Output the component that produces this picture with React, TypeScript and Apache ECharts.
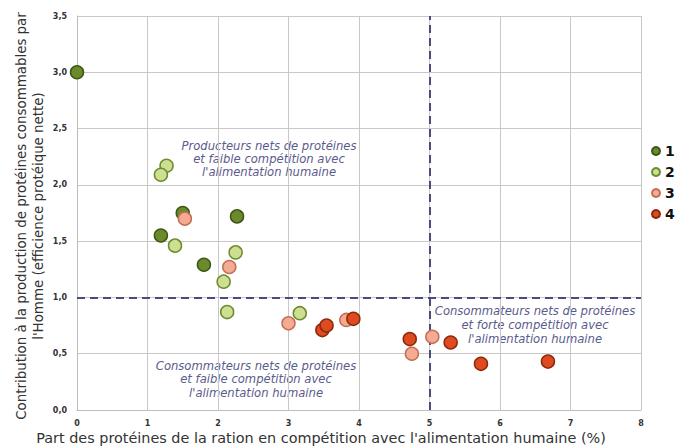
import React, { useEffect, useRef } from "react";
import * as echarts from "echarts";

const seriesNames = ["1", "2", "3", "4"];
const group1: [number, number][] = [
  [0, 3.0],
  [1.5, 1.75],
  [2.27, 1.72],
  [1.19, 1.55],
  [1.8, 1.29],
];
const group2: [number, number][] = [
  [1.27, 2.17],
  [1.19, 2.09],
  [1.39, 1.46],
  [2.25, 1.4],
  [2.08, 1.14],
  [2.13, 0.87],
  [3.16, 0.86],
];
const group3: [number, number][] = [
  [1.53, 1.7],
  [2.16, 1.27],
  [3.0, 0.77],
  [3.82, 0.8],
  [5.04, 0.65],
  [4.75, 0.5],
];
const group4: [number, number][] = [
  [3.48, 0.71],
  [3.54, 0.75],
  [3.92, 0.81],
  [4.72, 0.63],
  [5.3, 0.6],
  [5.73, 0.41],
  [6.68, 0.43],
];
const xTicks = [0, 1, 2, 3, 4, 5, 6, 7, 8];
const yTicks = [0, 0.5, 1, 1.5, 2, 2.5, 3, 3.5];
const thresholdX = 5;
const thresholdY = 1;

const fills = ["#6b8a2c", "#cddf90", "#f5aa92", "#df4a20"];
const borders = ["#3e5716", "#6f8a30", "#c26f58", "#8a2a0c"];

export default function App() {
  const ref = useRef<HTMLDivElement>(null);
  useEffect(() => {
    if (!ref.current) return;
    const chart = echarts.init(ref.current, null, { renderer: "svg" });
    const groups = [group1, group2, group3, group4];
    const font = "DejaVu Sans";
    const annColor = "#5b5b8c";
    const series: any[] = groups.map((g, i) => ({
      type: "scatter",
      name: seriesNames[i],
      data: g,
      symbolSize: 13,
      z: 5,
      itemStyle: { color: fills[i], borderColor: borders[i], borderWidth: 1.5, opacity: 1 },
    }));
    series[0].markLine = {
      silent: true,
      symbol: "none",
      label: { show: false },
      lineStyle: { color: "#4b4b80", width: 2, type: [8, 5] },
      data: [{ xAxis: thresholdX }, { yAxis: thresholdY }],
    };
    chart.setOption({
      animation: false,
      backgroundColor: "#ffffff",
      textStyle: { fontFamily: font },
      grid: { left: 77, right: 34, top: 16, bottom: 36 },
      xAxis: {
        type: "value",
        min: xTicks[0],
        max: xTicks[xTicks.length - 1],
        interval: 1,
        axisLine: { show: true, lineStyle: { color: "#bdbdbd" } },
        axisTick: { show: false },
        splitLine: { show: true, lineStyle: { color: "#c8c8c8", width: 1 } },
        axisLabel: { color: "#333", fontSize: 8, fontWeight: "bold", margin: 9, fontFamily: font },
      },
      yAxis: {
        type: "value",
        min: yTicks[0],
        max: yTicks[yTicks.length - 1],
        interval: 0.5,
        axisLine: { show: true, lineStyle: { color: "#bdbdbd" } },
        axisTick: { show: false },
        splitLine: { show: true, lineStyle: { color: "#c8c8c8", width: 1 } },
        axisLabel: {
          color: "#333",
          fontSize: 8,
          fontWeight: "bold",
          margin: 10,
          fontFamily: font,
          formatter: (v: number) => v.toFixed(1).replace(".", ","),
        },
      },
      legend: {
        orient: "vertical",
        left: 646,
        top: 139,
        padding: 5,
        itemWidth: 8,
        itemHeight: 8,
        itemGap: 7,
        icon: "circle",
        textStyle: { fontSize: 14, fontWeight: "bold", color: "#111", fontFamily: font },
        data: seriesNames,
      },
      graphic: [
        {
          type: "text",
          x: 30,
          y: 216,
          rotation: Math.PI / 2,
          style: {
            text: "Contribution à la production de protéines consommables par\nl'Homme (efficience protéique nette)",
            font: "13.4px DejaVu Sans",
            fill: "#333",
            textAlign: "center",
            textVerticalAlign: "middle",
            lineHeight: 16.5,
          },
        },
        {
          type: "text",
          x: 321,
          y: 438,
          style: {
            text: "Part des protéines de la ration en compétition avec l'alimentation humaine (%)",
            font: "14.4px DejaVu Sans",
            fill: "#333",
            textAlign: "center",
            textVerticalAlign: "middle",
          },
        },
        {
          type: "text",
          x: 269,
          y: 159,
          style: {
            text: "Producteurs nets de protéines\net faible compétition avec\nl'alimentation humaine",
            font: "italic 11.6px DejaVu Sans",
            fill: annColor,
            textAlign: "center",
            textVerticalAlign: "middle",
            lineHeight: 13,
          },
        },
        {
          type: "text",
          x: 256,
          y: 379,
          style: {
            text: "Consommateurs nets de protéines\net faible compétition avec\nl'alimentation humaine",
            font: "italic 11.6px DejaVu Sans",
            fill: annColor,
            textAlign: "center",
            textVerticalAlign: "middle",
            lineHeight: 13.5,
          },
        },
        {
          type: "text",
          x: 535,
          y: 325,
          style: {
            text: "Consommateurs nets de protéines\net forte compétition avec\nl'alimentation humaine",
            font: "italic 11.6px DejaVu Sans",
            fill: annColor,
            textAlign: "center",
            textVerticalAlign: "middle",
            lineHeight: 14,
          },
        },
      ],
      series,
    });
    return () => chart.dispose();
  }, []);
  return (
    <div
      ref={ref}
      style={{ position: "fixed", left: 0, top: 0, width: 675, height: 446, background: "#fff" }}
    />
  );
}
